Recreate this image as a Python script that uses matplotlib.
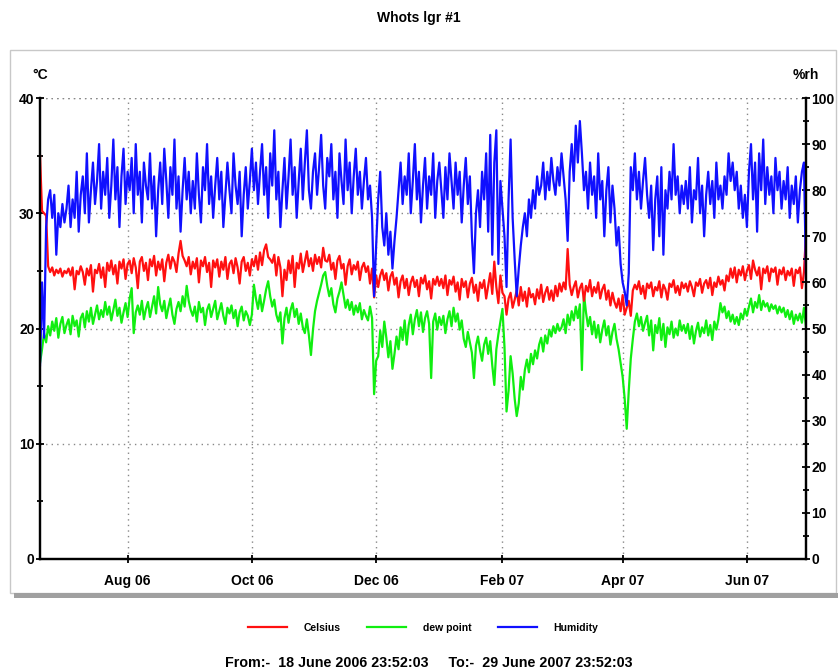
#!/usr/bin/env python3

# Logger chart: temperature, dew point and humidity, June 2006 - June 2007

import numpy as np
import pandas as pd
import matplotlib
matplotlib.use("Agg")
from matplotlib import pyplot as plt
import matplotlib.dates as mdates
from matplotlib.patches import Rectangle
from matplotlib.lines import Line2D

plt.rcParams['font.family'] = ['Liberation Sans', 'DejaVu Sans']
plt.rcParams['font.weight'] = 'bold'

# one reading per day, starting 18 June 2006 23:52:03
start = "2006-06-18 23:52:03"

# Celsius, by month
celsius = [
    35.0, 30.2, 30.0, 29.8, 25.4, 24.9, 25.3, 24.6, 25.1, 24.8, 25.2, 24.5, 25.0,  # Jun 06
    24.8, 25.2, 24.6, 25.3, 23.4, 25.0, 24.7, 25.4, 24.9, 23.8, 25.2, 24.6, 25.5, 23.2, 25.1, 24.8,
    25.6, 24.4, 25.3, 23.6, 25.7, 25.0, 25.9, 24.7, 25.5, 23.9, 25.8, 25.2, 26.0, 24.3, 25.6,  # Jul
    25.9, 24.8, 26.1, 25.3, 23.5, 25.8, 26.2, 25.0, 25.7, 24.2, 26.0, 25.4, 26.3, 24.6, 25.8, 25.1,
    26.0, 24.1, 25.7, 26.4, 25.2, 26.2, 25.8, 24.9, 26.5, 27.6, 26.3, 25.9, 25.4, 26.2, 24.7,  # Aug
    25.8, 25.2, 26.1, 24.0, 25.9, 25.4, 26.2, 24.9, 25.7, 23.6, 25.9, 25.3, 26.0, 24.5, 25.8,
    25.1, 26.2, 24.3, 25.6, 25.9, 24.8, 26.1, 25.3, 23.9, 25.8, 26.2, 25.0, 25.7, 24.6, 26.0,  # Sep
    25.4, 26.3, 25.1, 26.6, 25.5, 26.8, 27.3, 26.2, 26.0, 25.7, 26.4, 24.6, 26.2, 25.3, 22.8, 25.1,
    24.2, 25.9, 24.8, 26.3, 23.6, 25.7, 25.2, 26.5, 24.9, 25.8, 26.7, 25.4, 26.1, 25.0, 26.4,  # Oct
    25.6, 26.2, 25.3, 27.0, 25.9, 25.8, 26.4, 25.1, 25.7, 24.3, 25.9, 26.3, 25.2, 25.6, 23.8,
    25.4, 26.0, 24.7, 25.5, 25.1, 25.8, 24.2, 25.3, 25.7, 24.9, 25.4, 23.9, 25.2, 22.7, 24.6,  # Nov
    23.6, 24.6, 25.1, 24.2, 24.8, 23.3, 24.5, 24.9, 23.8, 24.4, 22.7, 24.1, 24.6, 23.5, 24.3, 22.9,
    24.0, 24.5, 23.6, 24.2, 22.8, 24.4, 23.9, 24.6, 23.4, 24.1, 22.6, 24.3, 23.8, 24.5, 23.7,  # Dec
    24.3, 23.5, 24.6, 22.9, 24.2, 23.8, 24.5, 23.2, 24.0, 22.5, 24.3, 23.6, 24.1, 22.7, 23.9, 24.4,
    23.1, 23.8, 22.4, 24.0, 23.5, 24.2, 22.6, 23.7, 24.8, 23.0, 25.8, 23.6, 22.2, 24.6, 23.1,  # Jan 07
    22.8, 21.2, 22.6, 23.1, 21.8, 22.5, 23.3, 22.0, 23.6, 22.4, 23.2, 21.9, 23.5, 22.7,
    23.0, 22.1, 23.4, 22.6, 23.8, 22.3, 23.1, 23.6, 22.5, 23.3, 22.4, 23.7, 22.8, 23.9,  # Feb
    23.2, 24.0, 23.4, 26.9, 23.8, 22.9, 23.6, 24.1, 22.7, 23.5, 23.9, 22.4, 23.7, 23.2, 24.2, 22.8,
    23.6, 23.1, 24.0, 22.6, 23.4, 23.8, 22.5, 23.3, 22.0, 23.1, 22.3, 21.8, 22.6, 21.5, 22.9,  # Mar
    21.2, 21.8, 22.4, 21.1, 23.3, 23.8, 23.4, 24.1, 23.0, 23.7, 22.6, 23.9, 23.5, 24.0, 22.8,
    23.6, 23.3, 24.1, 22.7, 23.8, 23.4, 22.5, 23.9, 23.6, 24.2, 23.1, 23.7, 22.9, 24.0, 23.5,  # Apr
    23.9, 23.2, 24.1, 23.6, 22.8, 24.0, 23.7, 24.3, 23.1, 23.9, 24.2, 23.5, 24.4, 22.9, 24.0, 23.6,
    24.5, 23.8, 24.2, 23.3, 24.6, 24.1, 25.2, 24.4, 25.3, 24.0, 25.1, 24.6, 25.4, 24.2, 25.0,  # May
    25.5, 24.3, 25.9, 25.1, 24.6, 25.3, 23.4, 25.2, 24.8, 25.4, 24.1, 25.2, 24.9, 25.3, 23.8,
    25.1, 24.7, 25.3, 24.2, 25.0, 24.6, 25.2, 23.7, 25.1, 24.8, 25.3, 23.5, 24.9, 28.2,  # Jun 07
]

dew_point = [
    17.0, 18.2, 19.6, 18.8, 20.2, 19.4, 20.6, 19.8, 20.9, 19.2, 20.4, 21.0, 19.6,  # Jun 06
    20.3, 20.8, 19.5, 21.1, 20.2, 20.7, 19.3, 20.9, 21.3, 20.1, 21.5, 20.6, 21.8, 20.4, 21.2, 22.0,
    20.8, 21.6, 21.0, 22.3, 21.2, 21.9, 20.7, 21.6, 22.5, 21.1, 21.8, 20.5, 21.4, 22.2, 21.0,  # Jul
    22.6, 23.5, 19.6, 21.4, 22.0, 21.2, 22.4, 20.8, 21.7, 22.3, 21.0, 21.9, 22.8, 21.3, 23.6, 22.1,
    21.5, 22.4, 20.9, 21.8, 22.6, 21.2, 20.4, 21.7, 22.3, 21.5, 22.8, 21.9, 23.7, 22.4, 21.6,  # Aug
    21.1, 21.9, 20.6, 22.3, 21.4, 21.8, 20.3, 21.6, 22.1, 21.0, 21.7, 22.4, 20.8, 21.5, 22.2,
    21.1, 20.4, 21.8, 21.3, 22.0, 20.9, 21.6, 20.2, 21.4, 21.9, 20.7, 21.5, 21.1, 20.3, 21.2,  # Sep
    23.8, 22.6, 21.7, 22.9, 21.5, 22.4, 23.4, 24.1, 22.8, 21.9, 22.5, 21.2, 20.6, 21.4, 18.7, 20.9,
    21.8, 20.5, 21.6, 22.2, 21.0, 21.7, 20.4, 21.3, 20.1, 19.6, 20.8, 19.4, 17.7, 19.9, 21.5,  # Oct
    22.4, 23.1, 23.8, 24.6, 24.9, 23.7, 22.8, 23.5, 22.1, 21.4, 22.6, 23.2, 24.0, 22.9, 21.8,
    22.5, 21.6, 22.3, 21.2, 22.0, 21.4, 22.2, 20.8, 21.6, 21.1, 20.7, 21.9, 20.9, 14.3, 17.2,  # Nov
    17.6, 19.8, 18.4, 20.6, 19.2, 17.5, 18.9, 16.5, 17.8, 19.3, 18.2, 20.1, 19.0, 20.7, 18.6, 20.3,
    21.2, 19.5, 20.8, 21.6, 20.2, 21.4, 19.7, 20.9, 21.5, 20.4, 15.7, 20.6, 21.3, 19.9, 21.0,  # Dec
    20.3, 21.1, 19.6, 20.8, 21.5, 20.2, 21.8, 20.6, 21.3, 19.9, 20.7, 19.1, 18.4, 19.7, 18.8, 17.9,
    15.7, 18.5, 19.3, 18.1, 17.2, 18.6, 19.2, 17.8, 18.9, 16.8, 15.1, 18.2, 19.5, 20.6, 21.7,  # Jan 07
    18.4, 12.8, 14.6, 17.6, 16.1, 13.9, 12.4, 13.5, 15.8, 14.7, 16.4, 17.3, 16.2, 17.8,
    16.9, 18.1, 17.4, 18.6, 19.2, 18.0, 19.4, 18.7, 19.9, 19.3, 20.2, 19.6, 20.4, 19.8,  # Feb
    20.1, 20.8, 19.6, 21.2, 20.3, 21.5, 20.7, 21.9, 20.9, 22.1, 16.4, 23.0, 21.4, 20.2, 21.0, 19.5,
    20.6, 19.2, 20.3, 18.8, 19.9, 20.7, 19.4, 20.2, 18.6, 19.7, 20.4, 19.1, 18.2, 17.0, 15.8,  # Mar
    13.9, 11.3, 14.6, 17.4, 19.1, 20.6, 21.3, 20.2, 21.0, 19.8, 20.5, 21.1, 19.4, 20.7, 18.1,
    20.3, 19.6, 20.9, 19.0, 20.4, 18.4, 20.1, 19.5, 20.6, 19.2, 20.0, 19.4, 20.7, 19.8, 20.3,  # Apr
    19.6, 20.4, 19.1, 20.2, 18.7, 19.8, 20.5, 19.3, 20.1, 19.6, 20.7, 19.4, 20.3, 19.0, 20.6, 19.9,
    20.8, 22.2, 21.4, 21.9, 20.9, 21.5, 20.6, 21.2, 20.4, 21.0, 20.3, 21.3, 20.8, 21.7, 21.1,  # May
    21.9, 22.6, 21.4, 22.3, 21.8, 22.9, 21.6, 22.4, 21.9, 22.2, 21.5, 22.1, 21.7, 22.0, 21.3,
    21.9, 21.4, 21.8, 21.0, 21.6, 20.8, 21.5, 20.4, 21.2, 20.7, 21.3, 20.5, 21.8, 20.1,  # Jun 07
]

humidity = [
    42, 60, 48, 72, 78, 80, 74, 79, 66, 75, 72, 77, 73,  # Jun 06
    76, 81, 72, 78, 74, 84, 71, 79, 83, 75, 88, 73, 80, 86, 77, 82,
    90, 76, 84, 79, 87, 74, 81, 91, 78, 85, 72, 83, 89, 77, 84,  # Jul
    80, 87, 75, 90, 79, 84, 73, 86, 81, 78, 88, 76, 83, 70, 80, 86,
    77, 89, 82, 74, 85, 79, 91, 76, 83, 71, 80, 87, 78, 84, 75,  # Aug
    82, 76, 88, 79, 73, 85, 80, 90, 77, 83, 74, 81, 87, 78, 84,
    72, 79, 86, 80, 75, 88, 81, 77, 84, 70, 79, 85, 76, 82, 89,  # Sep
    80, 86, 77, 84, 90, 79, 85, 74, 88, 81, 93, 78, 84, 72, 80, 87,
    76, 83, 91, 79, 85, 74, 82, 89, 78, 86, 93, 80, 76, 84, 88,  # Oct
    79, 85, 92, 81, 76, 87, 83, 90, 78, 84, 74, 88, 82, 77, 91,
    80, 86, 75, 83, 89, 79, 84, 76, 82, 87, 78, 81, 74, 57, 68,  # Nov
    78, 84, 72, 68, 75, 66, 71, 63, 69, 74, 80, 86, 77, 83, 79, 88,
    75, 82, 90, 78, 84, 73, 81, 87, 76, 83, 79, 88, 74, 82, 86,  # Dec
    80, 74, 85, 78, 88, 82, 76, 86, 79, 84, 73, 81, 87, 77, 83, 70,
    62, 75, 80, 72, 84, 78, 88, 71, 92, 66, 86, 93, 64, 82, 76,  # Jan 07
    70, 59, 78, 91, 74, 65, 57, 63, 68, 72, 75, 70, 78, 74,
    80, 76, 83, 79, 81, 86, 78, 84, 80, 87, 82, 79, 85, 81,  # Feb
    88, 83, 78, 69, 84, 90, 82, 94, 86, 95, 88, 80, 84, 76, 86, 79,
    83, 74, 88, 78, 82, 70, 80, 85, 73, 81, 76, 68, 72, 64, 60,  # Mar
    58, 55, 62, 85, 80, 88, 78, 84, 76, 82, 87, 79, 74, 81, 67,
    78, 83, 70, 85, 66, 80, 76, 84, 78, 90, 79, 83, 75, 81, 77,  # Apr
    82, 76, 85, 73, 80, 78, 87, 75, 81, 70, 79, 84, 77, 82, 74, 86,
    78, 81, 76, 83, 79, 88, 82, 86, 80, 84, 76, 81, 74, 79, 72,  # May
    84, 90, 78, 86, 71, 88, 80, 91, 77, 85, 79, 83, 75, 87, 80,
    84, 76, 82, 78, 85, 74, 81, 77, 83, 73, 80, 84, 86, 61,  # Jun 07
]

series_names = ["Celsius", "dew point", "Humidity"]
series_colors = ["#ff1010", "#10ee10", "#1010ff"]
month_ticks = ["2006-08-01", "2006-10-01", "2006-12-01",
               "2007-02-01", "2007-04-01", "2007-06-01"]

dates = pd.date_range(start, periods=len(celsius), freq="D")

fig = plt.figure(figsize=(8.38, 6.72), dpi=100)

# grey panel frame with a shadow along the bottom
fig.patches.append(Rectangle((10/838, 1 - 593/672), 826/838, 543/672,
                             transform=fig.transFigure, fill=False,
                             edgecolor="#c8c8c8", lw=1.0))
fig.patches.append(Rectangle((14/838, 1 - 598/672), 824/838, 5/672,
                             transform=fig.transFigure, facecolor="#a0a0a0",
                             edgecolor="none"))

ax = fig.add_axes([40/838, 1 - 559/672, 766/838, 461/672])
ax2 = ax.twinx()

ax.plot(dates, celsius, color=series_colors[0], lw=1.6, zorder=3)
ax.plot(dates, dew_point, color=series_colors[1], lw=1.6, zorder=2)
ax2.plot(dates, humidity, color=series_colors[2], lw=1.6)

ax.set_xlim(dates[0], dates[-1])
ax.set_ylim(0, 40)
ax2.set_ylim(0, 100)

ax.set_yticks([0, 10, 20, 30, 40])
ax.set_yticks([5, 15, 25, 35], minor=True)
ax2.set_yticks(np.arange(0, 101, 10))
ax2.set_yticks(np.arange(5, 100, 10), minor=True)
ax.set_xticks(pd.to_datetime(month_ticks))
ax.xaxis.set_major_formatter(mdates.DateFormatter("%b %y"))

for a in (ax, ax2):
    a.spines['top'].set_visible(False)
    a.spines['left'].set_linewidth(1.6)
    a.spines['right'].set_linewidth(1.6)
    a.spines['bottom'].set_linewidth(1.6)
    a.tick_params(which='both', direction='inout', width=1.3, labelsize=10)
    a.tick_params(which='major', length=6)
    a.tick_params(which='minor', length=5)
ax.tick_params(axis='x', pad=8, labelsize=10)
ax.tick_params(axis='y', pad=1)
ax2.tick_params(axis='y', pad=1)

ax.grid(True, which='major', ls=(0, (1, 3)), color="#888888", lw=1.0)
ax.axhline(40, ls=(0, (1, 3)), color="#888888", lw=1.0, zorder=1)

ax.text(-0.01, 1.05, "°C", transform=ax.transAxes, fontsize=10,
        fontweight='bold', ha='left', va='center')
ax.text(1.0, 1.05, "%rh", transform=ax.transAxes, fontsize=10,
        fontweight='bold', ha='center', va='center')

fig.text(0.5, 1 - 18/672, "Whots lgr #1", ha='center', va='center',
         fontsize=10, fontweight='bold')

handles = [Line2D([], [], color=c, lw=1.6) for c in series_colors]
fig.legend(handles, series_names, loc='center', bbox_to_anchor=(0.505, 1 - 628/672),
           ncol=3, frameon=False, fontsize=7.5, handlelength=3.7,
           columnspacing=2.6, handletextpad=1.6)

fig.text(0.512, 1 - 663/672,
         "From:-  18 June 2006 23:52:03     To:-  29 June 2007 23:52:03",
         ha='center', va='center', fontsize=10.3, fontweight='bold')

plt.savefig("out.png", dpi=100)
